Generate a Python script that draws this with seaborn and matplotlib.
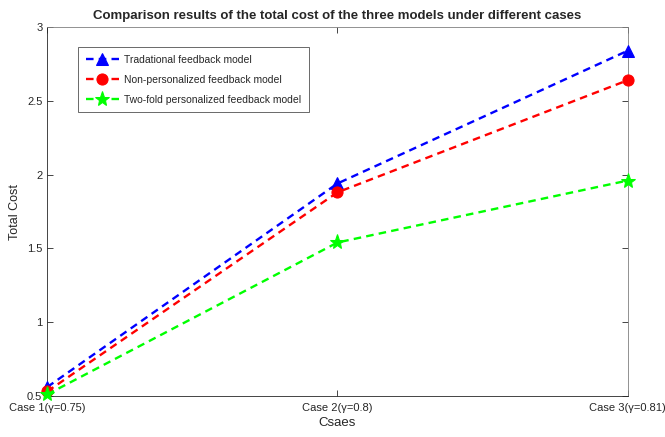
import pandas as pd
import matplotlib
matplotlib.use("Agg")
import matplotlib.pyplot as plt
import seaborn as sns

cases = ["Case 1(\u03b3=0.75)", "Case 2(\u03b3=0.8)", "Case 3(\u03b3=0.81)"]
tradational = [0.56, 1.94, 2.84]
non_personalized = [0.53, 1.88, 2.64]
two_fold = [0.51, 1.54, 1.96]
series_names = ["Tradational feedback model",
                "Non-personalized feedback model",
                "Two-fold personalized feedback model"]

rows = []
for name, vals in zip(series_names, [tradational, non_personalized, two_fold]):
    for i, v in enumerate(vals):
        rows.append({"pos": i, "cost": v, "model": name})
df = pd.DataFrame(rows)

sns.set_style("ticks")
plt.rcParams["font.family"] = ["Liberation Sans", "DejaVu Sans"]

fig = plt.figure(figsize=(6.65, 4.37), dpi=100)
ax = fig.add_axes([0.071, 0.094, 0.873, 0.844])

styles = {
    series_names[0]: ("#0000ff", "^", 9),
    series_names[1]: ("#ff0000", "o", 8),
    series_names[2]: ("#00ff00", "*", 11),
}
for name in series_names:
    color, marker, ms = styles[name]
    sub = df[df["model"] == name]
    sns.lineplot(data=sub, x="pos", y="cost", ax=ax, color=color, marker=marker,
                 markersize=ms, markeredgecolor=color, linewidth=1.7,
                 dashes=False, label=name, clip_on=False, zorder=3)
    ax.lines[-1].set_dashes((3.2, 2.2))

ax.set_xlim(0, 2)
ax.set_ylim(0.5, 3)
ax.set_xticks(range(len(cases)))
ax.set_xticklabels(cases)
ax.set_yticks([0.5, 1, 1.5, 2, 2.5, 3])
ax.set_yticklabels(["0.5", "1", "1.5", "2", "2.5", "3"])
ax.tick_params(direction="in", top=True, right=True, length=4, width=0.6,
               labelsize=8, colors="#262626")
ax.tick_params(axis="x", pad=5)
for s in ax.spines.values():
    s.set_linewidth(0.6)
    s.set_color("#262626")
ax.spines["top"].set_color("#808080")
ax.spines["right"].set_color("#808080")

ax.set_xlabel("Csaes", fontsize=9.5, color="#262626", labelpad=3)
ax.set_ylabel("Total Cost", fontsize=9, color="#262626")
ax.set_title("Comparison results of the total cost of the three models under different cases",
             fontsize=9.5, fontweight="bold", pad=6)

handles, labels = ax.get_legend_handles_labels()
for h in handles:
    h.set_dashes((3.2, 2.2))
leg = ax.legend(handles, labels, loc="upper left", bbox_to_anchor=(0.053, 0.946),
                borderaxespad=0, fontsize=7.5, frameon=True, fancybox=False,
                edgecolor="#262626", handlelength=3.2, borderpad=0.75,
                labelspacing=0.95, handletextpad=0.5)
leg.get_frame().set_linewidth(0.6)

fig.savefig("out.png", dpi=100)
